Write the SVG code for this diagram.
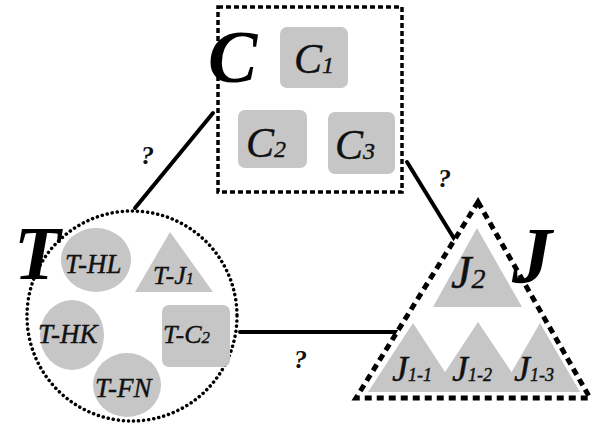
<svg xmlns="http://www.w3.org/2000/svg" width="592" height="426" viewBox="0 0 592 426">
<style>
.sub{fill:#c6c6c6;stroke:none}
.lbl{font-family:"Liberation Serif","DejaVu Serif",serif;font-style:italic;fill:#111;stroke:#111;stroke-width:0.4}
.big{font-family:"Liberation Serif","DejaVu Serif",serif;font-style:italic;font-weight:bold;fill:#000}
.q{font-family:"Liberation Serif","DejaVu Serif",serif;font-style:italic;font-weight:bold;font-size:26px;fill:#111}
.conn{stroke:#000;stroke-width:4;stroke-linecap:round;fill:none}
</style>
<g id="connectors">
<line class="conn" x1="213" y1="113" x2="135" y2="208"/>
<line class="conn" x1="407" y1="162" x2="455" y2="240"/>
<line class="conn" x1="240" y1="332" x2="397" y2="332"/>
<text class="q" x="141" y="164">?</text>
<text class="q" x="438" y="187">?</text>
<text class="q" x="294" y="368">?</text>
</g>
<g id="C">
<rect x="218" y="7" width="184" height="185" fill="#fff" stroke="#000" stroke-width="3.5" stroke-dasharray="5 3"/>
<text class="big" x="208" y="82" font-size="74">C</text>
</g>
<g id="C1">
<rect class="sub" x="280" y="27" width="68" height="61" rx="7"/>
<text class="lbl" x="294" y="73" font-size="42">C<tspan font-size="24">1</tspan></text>
</g>
<g id="C2">
<rect class="sub" x="238" y="110" width="69" height="58" rx="7"/>
<text class="lbl" x="246" y="157" font-size="42">C<tspan font-size="24">2</tspan></text>
</g>
<g id="C3">
<rect class="sub" x="328" y="112" width="67" height="62" rx="7"/>
<text class="lbl" x="335" y="159" font-size="42">C<tspan font-size="24">3</tspan></text>
</g>
<g id="T">
<circle cx="132" cy="316" r="105" fill="#fff" stroke="#000" stroke-width="3.5" stroke-dasharray="0.1 5" stroke-linecap="round"/>
<text class="big" x="14" y="279" font-size="76">T</text>
</g>
<g id="T-HL">
<ellipse class="sub" cx="96" cy="260" rx="35" ry="32"/>
<text class="lbl" x="65" y="273" font-size="27">T-HL</text>
</g>
<g id="T-J1">
<polygon class="sub" points="170,232 213,292 135,292"/>
<text class="lbl" x="153" y="284" font-size="26">T-J<tspan font-size="16">1</tspan></text>
</g>
<g id="T-HK">
<ellipse class="sub" cx="72" cy="335" rx="32" ry="35"/>
<text class="lbl" x="38" y="343" font-size="27">T-HK</text>
</g>
<g id="T-C2">
<rect class="sub" x="162" y="305" width="68" height="62" rx="7"/>
<text class="lbl" x="163" y="343" font-size="26">T-C<tspan font-size="17">2</tspan></text>
</g>
<g id="T-FN">
<ellipse class="sub" cx="127" cy="385" rx="34" ry="32"/>
<text class="lbl" x="95" y="397" font-size="27">T-FN</text>
</g>
<g id="J">
<polygon points="478,202 590,398 356,398" fill="#fff" stroke="#000" stroke-width="5" stroke-dasharray="7 5" stroke-linejoin="miter"/>
<text class="big" x="512" y="283" font-size="80">J</text>
</g>
<g id="J2">
<polygon class="sub" points="477,228 522,307 433,307"/>
<text class="lbl" x="451" y="288" font-size="46">J<tspan font-size="28">2</tspan></text>
</g>
<g id="J1-1">
<polygon class="sub" points="413,323 458,392 368,392"/>
<text class="lbl" x="392" y="381" font-size="36">J<tspan font-size="18">1-1</tspan></text>
</g>
<g id="J1-2">
<polygon class="sub" points="478,322 525,392 432,392"/>
<text class="lbl" x="452" y="381" font-size="36">J<tspan font-size="18">1-2</tspan></text>
</g>
<g id="J1-3">
<polygon class="sub" points="540,323 580,392 500,392"/>
<text class="lbl" x="514" y="381" font-size="36">J<tspan font-size="18">1-3</tspan></text>
</g>
</svg>
